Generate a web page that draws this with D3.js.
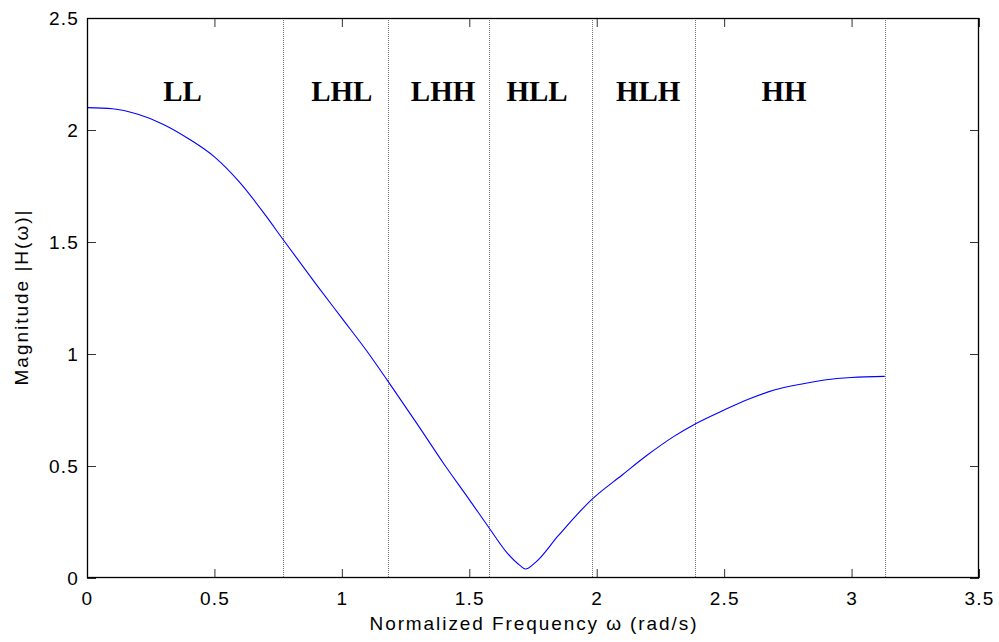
<!DOCTYPE html>
<html>
<head>
<meta charset="utf-8">
<script src="https://cdn.jsdelivr.net/npm/d3@7"></script>
<style>
  html, body { margin: 0; padding: 0; background: #fff; }
  svg { display: block; }
</style>
</head>
<body>
<svg id="chart" width="999" height="642"></svg>
<script>
// ---- data ----
const freq = [0, 0.1, 0.2, 0.3, 0.4, 0.5, 0.6, 0.7, 0.77, 0.9, 1.0, 1.1, 1.18, 1.3, 1.4, 1.5, 1.58, 1.65, 1.7, 1.72, 1.76, 1.85, 1.98, 2.1, 2.2, 2.3, 2.39, 2.5, 2.6, 2.7, 2.8, 2.9, 3.0, 3.13];
const magnitude = [2.10, 2.095, 2.07, 2.025, 1.96, 1.88, 1.765, 1.62, 1.51, 1.31, 1.16, 1.01, 0.88, 0.68, 0.51, 0.35, 0.22, 0.11, 0.055, 0.04, 0.07, 0.19, 0.35, 0.46, 0.55, 0.63, 0.69, 0.75, 0.80, 0.84, 0.865, 0.885, 0.895, 0.90];
const bandEdges = [0.771, 1.183, 1.578, 1.983, 2.387, 3.133];
const bandNames = ["LL", "LHL", "LHH", "HLL", "HLH", "HH"];
const bandLabelX = [0.375, 1.0, 1.397, 1.766, 2.202, 2.735];
const xTicks = [0, 0.5, 1, 1.5, 2, 2.5, 3, 3.5];
const yTicks = [0, 0.5, 1, 1.5, 2, 2.5];
const xLabel = "Normalized Frequency  \u03c9 (rad/s)";
const yLabel = "Magnitude  |H(\u03c9)|";

// ---- layout ----
const L = 87, R = 979, T = 18, B = 578;
const svg = d3.select("#chart");
const x = d3.scaleLinear().domain([0, 3.5]).range([L, R]);
const y = d3.scaleLinear().domain([0, 2.5]).range([B, T]);

const sans = "Arial, 'Liberation Sans', Helvetica, sans-serif";
const serif = "'Times New Roman', 'Liberation Serif', serif";

// band separators (dotted)
svg.append("g").selectAll("line").data(bandEdges).join("line")
  .attr("x1", d => Math.round(x(d)) + 0.5).attr("x2", d => Math.round(x(d)) + 0.5)
  .attr("y1", T).attr("y2", B)
  .attr("stroke", "#777").attr("stroke-width", 1)
  .attr("stroke-dasharray", "1,1");

// curve
svg.append("path")
  .datum(freq.map((f, i) => [f, magnitude[i]]))
  .attr("fill", "none")
  .attr("stroke", "#0000ff")
  .attr("stroke-width", 1.1)
  .attr("d", d3.line().x(d => x(d[0])).y(d => y(d[1])).curve(d3.curveMonotoneX));

// band labels
svg.append("g").selectAll("text").data(bandNames).join("text")
  .attr("x", (d, i) => x(bandLabelX[i]))
  .attr("y", 101)
  .attr("text-anchor", "middle")
  .attr("font-family", serif)
  .attr("font-weight", "bold")
  .attr("font-size", 29)
  .attr("fill", "#000")
  .text(d => d);

// axes using d3 axis generators (ticks inward, box on all sides)
const tickLen = 9;
function styleAxis(g) {
  g.select(".domain").remove();
  g.selectAll(".tick line").attr("stroke", "#333").attr("stroke-width", 1);
}
svg.append("g").attr("transform", `translate(0,${B})`)
  .call(d3.axisBottom(x).tickValues(xTicks).tickSize(-tickLen).tickFormat(d3.format("~g")))
  .call(styleAxis)
  .call(g => g.selectAll(".tick text")
    .attr("y", 14).attr("dy", "0.71em")
    .attr("font-family", sans).attr("font-size", 19).attr("letter-spacing", "1.2px")
    .attr("fill", "#000"));
svg.append("g").attr("transform", `translate(0,${T})`)
  .call(d3.axisTop(x).tickValues(xTicks).tickSize(-tickLen).tickFormat(""))
  .call(styleAxis);
svg.append("g").attr("transform", `translate(${L},0)`)
  .call(d3.axisLeft(y).tickValues(yTicks).tickSize(-tickLen).tickFormat(d3.format("~g")))
  .call(styleAxis)
  .call(g => g.selectAll(".tick text")
    .attr("x", -8).attr("dy", "0.35em")
    .attr("font-family", sans).attr("font-size", 19).attr("letter-spacing", "1.2px")
    .attr("fill", "#000"));
svg.append("g").attr("transform", `translate(${R},0)`)
  .call(d3.axisRight(y).tickValues(yTicks).tickSize(-tickLen).tickFormat(""))
  .call(styleAxis);

// box
svg.append("rect")
  .attr("x", L + 0.5).attr("y", T + 0.5)
  .attr("width", R - L - 1).attr("height", B - T - 1)
  .attr("fill", "none").attr("stroke", "#000").attr("stroke-width", 1.3);

// axis titles
svg.append("text")
  .attr("x", (L + R) / 2).attr("y", 630)
  .attr("text-anchor", "middle")
  .attr("font-family", sans).attr("font-size", 19)
  .attr("textLength", 327).attr("lengthAdjust", "spacing")
  .attr("fill", "#000")
  .text(xLabel);
svg.append("text")
  .attr("transform", `translate(28,${(T + B) / 2}) rotate(-90)`)
  .attr("text-anchor", "middle")
  .attr("font-family", sans).attr("font-size", 19)
  .attr("textLength", 175).attr("lengthAdjust", "spacing")
  .attr("fill", "#000")
  .text(yLabel);
</script>
</body>
</html>
